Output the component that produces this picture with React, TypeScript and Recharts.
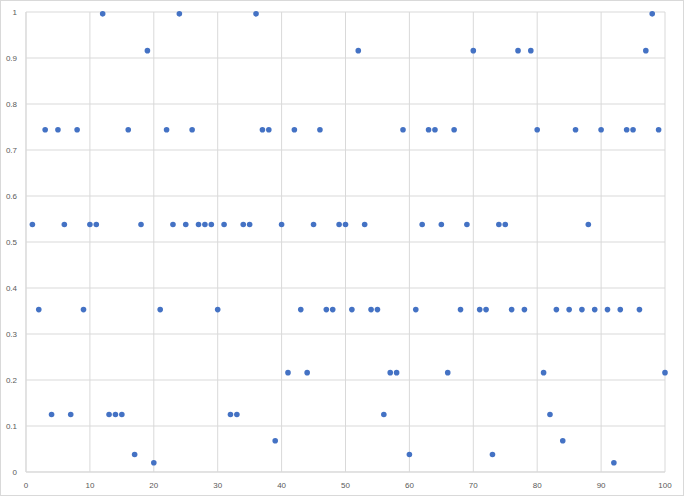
import {
    ScatterChart,
    Scatter,
    XAxis,
    YAxis,
    CartesianGrid,
} from 'recharts'

// values
const xValues = [
    1, 2, 3, 4, 5, 6, 7, 8, 9, 10,
    11, 12, 13, 14, 15, 16, 17, 18, 19, 20,
    21, 22, 23, 24, 25, 26, 27, 28, 29, 30,
    31, 32, 33, 34, 35, 36, 37, 38, 39, 40,
    41, 42, 43, 44, 45, 46, 47, 48, 49, 50,
    51, 52, 53, 54, 55, 56, 57, 58, 59, 60,
    61, 62, 63, 64, 65, 66, 67, 68, 69, 70,
    71, 72, 73, 74, 75, 76, 77, 78, 79, 80,
    81, 82, 83, 84, 85, 86, 87, 88, 89, 90,
    91, 92, 93, 94, 95, 96, 97, 98, 99, 100,
]

const yValues = [
    0.538, 0.353, 0.744, 0.125, 0.744, 0.538, 0.125, 0.744, 0.353, 0.538,
    0.538, 0.996, 0.125, 0.125, 0.125, 0.744, 0.038, 0.538, 0.916, 0.02,
    0.353, 0.744, 0.538, 0.996, 0.538, 0.744, 0.538, 0.538, 0.538, 0.353,
    0.538, 0.125, 0.125, 0.538, 0.538, 0.996, 0.744, 0.744, 0.068, 0.538,
    0.216, 0.744, 0.353, 0.216, 0.538, 0.744, 0.353, 0.353, 0.538, 0.538,
    0.353, 0.916, 0.538, 0.353, 0.353, 0.125, 0.216, 0.216, 0.744, 0.038,
    0.353, 0.538, 0.744, 0.744, 0.538, 0.216, 0.744, 0.353, 0.538, 0.916,
    0.353, 0.353, 0.038, 0.538, 0.538, 0.353, 0.916, 0.353, 0.916, 0.744,
    0.216, 0.125, 0.353, 0.068, 0.353, 0.744, 0.353, 0.538, 0.353, 0.744,
    0.353, 0.02, 0.353, 0.744, 0.744, 0.353, 0.916, 0.996, 0.744, 0.216,
]

const xTicks = [0, 10, 20, 30, 40, 50, 60, 70, 80, 90, 100]
const yTicks = [0, 0.1, 0.2, 0.3, 0.4, 0.5, 0.6, 0.7, 0.8, 0.9, 1]

const data = xValues.map((x, i) => ({ x, y: yValues[i] }))

const gridColor = '#d9d9d9'
const tickStyle = { fill: '#595959', fontSize: 8, fontFamily: 'Liberation Sans, Arial, sans-serif' }

const Dot = (props: any) => (
    <circle cx={props.cx} cy={props.cy} r={2.8} fill="#4472C4" />
)

export default function App() {
    return (
        <div style={{
            position: 'absolute',
            left: 0,
            top: 0,
            width: 684,
            height: 496,
            boxSizing: 'border-box',
            border: `1px solid ${gridColor}`,
            background: '#fff',
        }}>
            <ScatterChart
                width={682}
                height={494}
                margin={{ top: 11, right: 18, bottom: 0, left: 0 }}
            >
                <CartesianGrid stroke={gridColor} strokeWidth={1} />
                <XAxis
                    type="number"
                    dataKey="x"
                    domain={[0, 100]}
                    ticks={xTicks}
                    interval={0}
                    height={23}
                    tickLine={false}
                    axisLine={{ stroke: gridColor }}
                    tick={tickStyle}
                    tickMargin={4}
                />
                <YAxis
                    type="number"
                    dataKey="y"
                    domain={[0, 1]}
                    ticks={yTicks}
                    interval={0}
                    width={25}
                    tickLine={false}
                    axisLine={{ stroke: gridColor }}
                    tick={tickStyle}
                    tickMargin={3}
                />
                <Scatter data={data} shape={Dot} isAnimationActive={false} />
            </ScatterChart>
        </div>
    )
}
